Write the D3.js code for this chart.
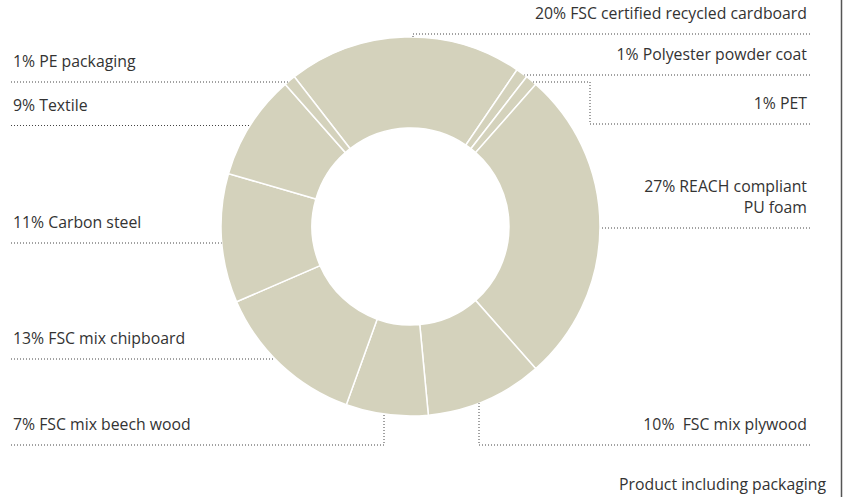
<!DOCTYPE html>
<html>
<head>
<meta charset="utf-8">
<script src="https://cdn.jsdelivr.net/npm/d3@7"></script>
<style>
  body { margin: 0; background: #fff; }
  svg { display: block; }
</style>
</head>
<body>
<div id="chart"></div>
<script>
document.addEventListener("DOMContentLoaded", () => {
    const width = 844;
    const height = 497;

    // material shares, clockwise from the top
    const materials = [
        "FSC certified recycled cardboard",
        "Polyester powder coat",
        "PET",
        "REACH compliant PU foam",
        "FSC mix plywood",
        "FSC mix beech wood",
        "FSC mix chipboard",
        "Carbon steel",
        "Textile",
        "PE packaging"
    ];
    const shares = [20, 1, 1, 27, 10, 7, 13, 11, 9, 1];
    const labelTexts = [
        ["20% FSC certified recycled cardboard"],
        ["1% Polyester powder coat"],
        ["1% PET"],
        ["27% REACH compliant", "PU foam"],
        ["10%  FSC mix plywood"],
        ["7% FSC mix beech wood"],
        ["13% FSC mix chipboard"],
        ["11% Carbon steel"],
        ["9% Textile"],
        ["1% PE packaging"]
    ];
    const footnote = "Product including packaging";

    // label layout: side, leader y, optional elbow x and second y
    const labelLayout = [
        { side: "right", y: 34, elbowX: 413 },
        { side: "right", y: 75 },
        { side: "right", y: 124, elbowX: 590, y2: 82 },
        { side: "right", y: 228 },
        { side: "right", y: 445, elbowX: 479 },
        { side: "left", y: 445, elbowX: 384 },
        { side: "left", y: 359 },
        { side: "left", y: 243 },
        { side: "left", y: 125.5 },
        { side: "left", y: 82 }
    ];

    const cx = 410.5, cy = 226.5;
    const outerR = 189.5, innerR = 98.5;
    const leftX = 11, rightX = 810;
    const fontSize = "15.8px";

    const svg = d3.select("#chart")
        .append("svg")
        .attr("width", width)
        .attr("height", height);

    const g = svg.append("g")
        .attr("transform", `translate(${cx},${cy})`);

    const startAngle = -37.8 * Math.PI / 180;
    const pie = d3.pie()
        .sort(null)
        .value(d => d)
        .startAngle(startAngle)
        .endAngle(startAngle + 2 * Math.PI);

    const arc = d3.arc()
        .innerRadius(innerR)
        .outerRadius(outerR);

    g.selectAll(".slice")
        .data(pie(shares))
        .enter()
        .append("path")
        .attr("class", "slice")
        .attr("d", arc)
        .style("fill", "#d4d2bc")
        .style("stroke", "#fff")
        .style("stroke-width", 1.5);

    // x where a horizontal line at y meets the outer circle
    function edgeX(y, side) {
        const dy = y - cy;
        const dx = Math.sqrt(Math.max(0, outerR * outerR - dy * dy));
        return side === "left" ? cx - dx : cx + dx;
    }
    function edgeY(x, y) {
        const dx = x - cx;
        const dy = Math.sqrt(Math.max(0, outerR * outerR - dx * dx));
        return y < cy ? cy - dy : cy + dy;
    }

    const line = d3.line();

    labelLayout.forEach((l, i) => {
        const startX = l.side === "left" ? leftX : rightX;
        let pts = [[startX, l.y]];
        if (l.elbowX !== undefined) {
            pts.push([l.elbowX, l.y]);
            if (l.y2 !== undefined) {
                pts.push([l.elbowX, l.y2]);
                pts.push([edgeX(l.y2, l.side), l.y2]);
            } else {
                pts.push([l.elbowX, edgeY(l.elbowX, l.y)]);
            }
        } else {
            pts.push([edgeX(l.y, l.side), l.y]);
        }

        svg.append("path")
            .attr("d", line(pts))
            .style("fill", "none")
            .style("stroke", "#444")
            .style("stroke-width", 1)
            .style("stroke-dasharray", "1,2");

        const lines = labelTexts[i];
        const text = svg.append("text")
            .attr("text-anchor", l.side === "left" ? "start" : "end")
            .style("font-family", "'Open Sans', sans-serif")
            .style("font-size", fontSize)
            .style("fill", "#333")
            .style("white-space", "pre");
        lines.forEach((t, j) => {
            text.append("tspan")
                .attr("x", l.side === "left" ? 13 : 807)
                .attr("y", l.y - 15 - (lines.length - 1 - j) * 21)
                .text(t);
        });
    });

    svg.append("text")
        .attr("x", 826)
        .attr("y", 490)
        .attr("text-anchor", "end")
        .style("font-family", "'Open Sans', sans-serif")
        .style("font-size", fontSize)
        .style("fill", "#333")
        .text(footnote);

    svg.append("line")
        .attr("x1", 841.5).attr("x2", 841.5)
        .attr("y1", 0).attr("y2", height)
        .style("stroke", "#555")
        .style("stroke-width", 1.5);
});
</script>
</body>
</html>
